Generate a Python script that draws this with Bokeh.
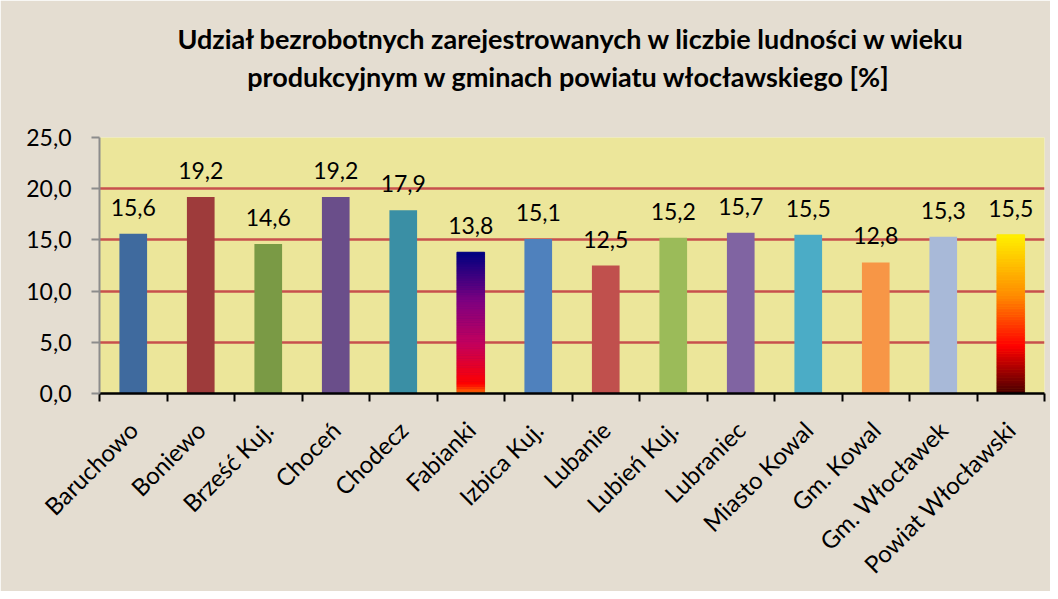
import numpy as np
from bokeh.plotting import figure
from bokeh.models import ColumnDataSource, Range1d, FixedTicker, Title
from bokeh.embed import file_html
from bokeh.resources import INLINE
from bokeh.core.properties import value

categories = ["Baruchowo", "Boniewo", "Brześć Kuj.", "Choceń", "Chodecz", "Fabianki",
              "Izbica Kuj.", "Lubanie", "Lubień Kuj.", "Lubraniec", "Miasto Kowal",
              "Gm. Kowal", "Gm. Włocławek", "Powiat Włocławski"]
values = [15.6, 19.2, 14.6, 19.2, 17.9, 13.8, 15.1, 12.5, 15.2, 15.7, 15.5, 12.8, 15.3, 15.5]
bar_colors = ["#3F6A9E", "#9E3B3B", "#7A9A45", "#6A4E8A", "#3A8FA5", "#000080",
              "#4F81BD", "#C0504D", "#9BBB59", "#8064A2", "#4BACC6", "#F79646",
              "#A8B9D8", "#FFF000"]
y_ticks = [0, 5, 10, 15, 20, 25]
y_tick_labels = ["0,0", "5,0", "10,0", "15,0", "20,0", "25,0"]
gradients = {
    "Fabianki": [(0.0, "#FF7A00"), (0.07, "#FF0000"), (0.35, "#C4005C"), (0.65, "#800080"), (1.0, "#000080")],
    "Powiat Włocławski": [(0.0, "#480000"), (0.3, "#FF0000"), (0.62, "#FF8C00"), (1.0, "#FFF000")],
}
title_line1 = "Udział bezrobotnych zarejestrowanych w liczbie ludności w wieku"
title_line2 = "produkcyjnym w gminach powiatu włocławskiego"
title_unit = "[%]"

FONT = "Lato"
n = len(categories)
centers = [i + 0.5 for i in range(n)]
data_labels = [f"{v:.1f}".replace(".", ",") for v in values]

p = figure(width=1050, height=591, output_backend="svg", toolbar_location=None,
           x_range=Range1d(0, n), y_range=Range1d(0, 25),
           min_border_left=99, min_border_right=6, min_border_top=137, min_border_bottom=195)
p.background_fill_color = "#ECE69A"
p.border_fill_color = "#E4DDD1"
p.outline_line_color = None

src = ColumnDataSource(dict(x=centers, top=values, color=bar_colors, label=data_labels))
p.vbar(x="x", top="top", width=0.41, bottom=0, fill_color="color", line_color=None, source=src)


def hex2rgb(h):
    h = h.lstrip("#")
    return np.array([int(h[i:i + 2], 16) for i in (0, 2, 4)], dtype=float)


def interp_color(stops, t):
    for (t0, c0), (t1, c1) in zip(stops[:-1], stops[1:]):
        if t0 <= t <= t1:
            f = (t - t0) / (t1 - t0) if t1 > t0 else 0
            c = hex2rgb(c0) * (1 - f) + hex2rgb(c1) * f
            return "#%02x%02x%02x" % tuple(int(round(v)) for v in c)
    return stops[-1][1]


for name, stops in gradients.items():
    i = categories.index(name)
    v = values[i]
    nseg = 60
    b = [v * k / nseg for k in range(nseg)]
    t = [v * (k + 1) / nseg for k in range(nseg)]
    cols = [interp_color(stops, (k + 0.5) / nseg) for k in range(nseg)]
    p.vbar(x=[centers[i]] * nseg, bottom=b, top=t, width=0.41, fill_color=cols,
           line_color=cols, line_width=0.8)

p.text(x="x", y="top", text="label", source=src, text_align="center", text_baseline="bottom",
       y_offset=-18, text_font=value(FONT), text_font_size="23px", text_color="#000000")

# axes
xa = p.xaxis[0]
xa.ticker = FixedTicker(ticks=centers, minor_ticks=list(range(n + 1)))
xa.major_label_overrides = {c: name for c, name in zip(centers, categories)}
xa.major_label_orientation = np.pi / 4
xa.major_tick_out = 0
xa.major_tick_in = 0
xa.minor_tick_out = 8
xa.minor_tick_in = 0
xa.minor_tick_line_color = "#000000"
xa.minor_tick_line_width = 2
xa.axis_line_color = "#000000"
xa.axis_line_width = 2.5
xa.major_label_text_font = FONT
xa.major_label_text_font_size = "24px"
xa.major_label_text_color = "#000000"
xa.major_label_standoff = 24

ya = p.yaxis[0]
ya.ticker = FixedTicker(ticks=y_ticks, minor_ticks=[])
ya.major_label_overrides = {t: l for t, l in zip(y_ticks, y_tick_labels)}
ya.axis_line_color = "#8C8C8C"
ya.axis_line_width = 2
ya.major_tick_line_color = "#8C8C8C"
ya.major_tick_line_width = 2
ya.major_tick_out = 8
ya.major_tick_in = 0
ya.minor_tick_line_color = None
ya.major_label_text_font = FONT
ya.major_label_text_font_size = "23px"
ya.major_label_text_color = "#000000"
ya.major_label_standoff = 20

p.xgrid.grid_line_color = None
p.ygrid.ticker = FixedTicker(ticks=y_ticks[1:])
p.ygrid.grid_line_color = "#C8504D"
p.ygrid.grid_line_width = 2.5

# two title lines: the first added sits closest to the plot
p.add_layout(Title(text=title_line2 + "  " + title_unit, align="center", standoff=90,
                   text_font=FONT, text_font_style="bold", text_font_size="27px",
                   text_color="#000000"), "above")
p.add_layout(Title(text=title_line1, align="center", standoff=-85,
                   text_font=FONT, text_font_style="bold", text_font_size="27px",
                   text_color="#000000"), "above")

open("out.html", "w").write(file_html(p, INLINE))
